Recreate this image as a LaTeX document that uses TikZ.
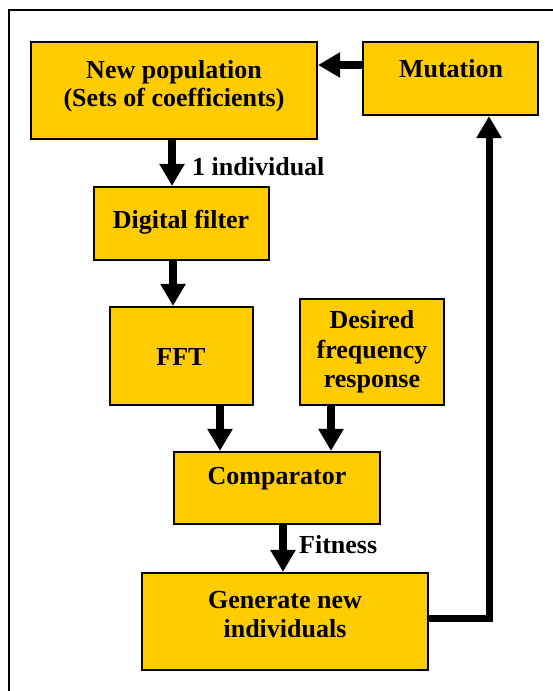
\documentclass[tikz,border=0pt]{standalone}
\usepackage{fontspec}
\setmainfont{Liberation Serif}
\usetikzlibrary{arrows.meta}
\definecolor{boxfill}{RGB}{255,204,0}
\begin{document}
\begin{tikzpicture}[x=1pt,y=-1pt,
  box/.style={draw=black, fill=boxfill, line width=2.2pt, rectangle, inner sep=0pt},
  txt/.style={anchor=base, inner sep=0pt, font=\fontsize{26}{29}\selectfont\bfseries},
  ltxt/.style={anchor=base west, inner sep=0pt, font=\fontsize{26}{29}\selectfont\bfseries},
  arr/.style={line width=8pt, -{Triangle[width=24pt,length=22pt]}},
  fb/.style={line width=7pt, line join=miter, -{Triangle[width=24pt,length=22pt]}}]
\useasboundingbox (0,0) rectangle (553,691);
% frame
\draw[line width=2.5pt] (9,700) -- (9,10) -- (560,10);
% boxes
\node[box, minimum width=286pt, minimum height=97pt] (np) at (174,90.5) {};
\node[box, minimum width=175pt, minimum height=73pt] (mut) at (450.5,78.5) {};
\node[box, minimum width=175pt, minimum height=73pt] (df) at (181.5,223.5) {};
\node[box, minimum width=143pt, minimum height=98pt] (fft) at (181.5,356) {};
\node[box, minimum width=144pt, minimum height=106pt] (des) at (372,352) {};
\node[box, minimum width=206pt, minimum height=72pt] (cmp) at (277,488) {};
\node[box, minimum width=286pt, minimum height=97pt] (gen) at (285,621.5) {};
% texts
\node[txt] (t1) at (174,78) {New population};
\node[txt] (t2) at (174,106) {(Sets of coefficients)};
\node[txt] (t3) at (451,77) {Mutation};
\node[txt] (t4) at (181,228) {Digital filter};
\node[txt] (t5) at (181,365) {FFT};
\node[txt] (t6) at (372,328) {Desired};
\node[txt] (t7) at (372,358) {frequency};
\node[txt] (t8) at (372,387) {response};
\node[txt] (t9) at (277,484) {Comparator};
\node[txt] (t10) at (285,608) {Generate new};
\node[txt] (t11) at (285,637) {individuals};
\node[ltxt] (l1) at (192,175) {1 individual};
\node[ltxt] (l2) at (299,553) {Fitness};
% connectors
\coordinate (a1) at (172,0);
\coordinate (a2) at (173,0);
\coordinate (a3) at (220,0);
\coordinate (a4) at (331,0);
\coordinate (a5) at (283,0);
\coordinate (c1) at (489,618);
\coordinate (h1) at (0,65);
\draw[arr] (mut.west |- h1) -- (np.east |- h1);
\draw[arr] (np.south -| a1) -- (df.north -| a1);
\draw[arr] (df.south -| a2) -- (fft.north -| a2);
\draw[arr] (fft.south -| a3) -- (cmp.north -| a3);
\draw[arr] (des.south -| a4) -- (cmp.north -| a4);
\draw[arr] (cmp.south -| a5) -- (gen.north -| a5);
\draw[fb] (gen.east |- c1) -- (c1) -- (mut.south -| c1);
\end{tikzpicture}
\end{document}
